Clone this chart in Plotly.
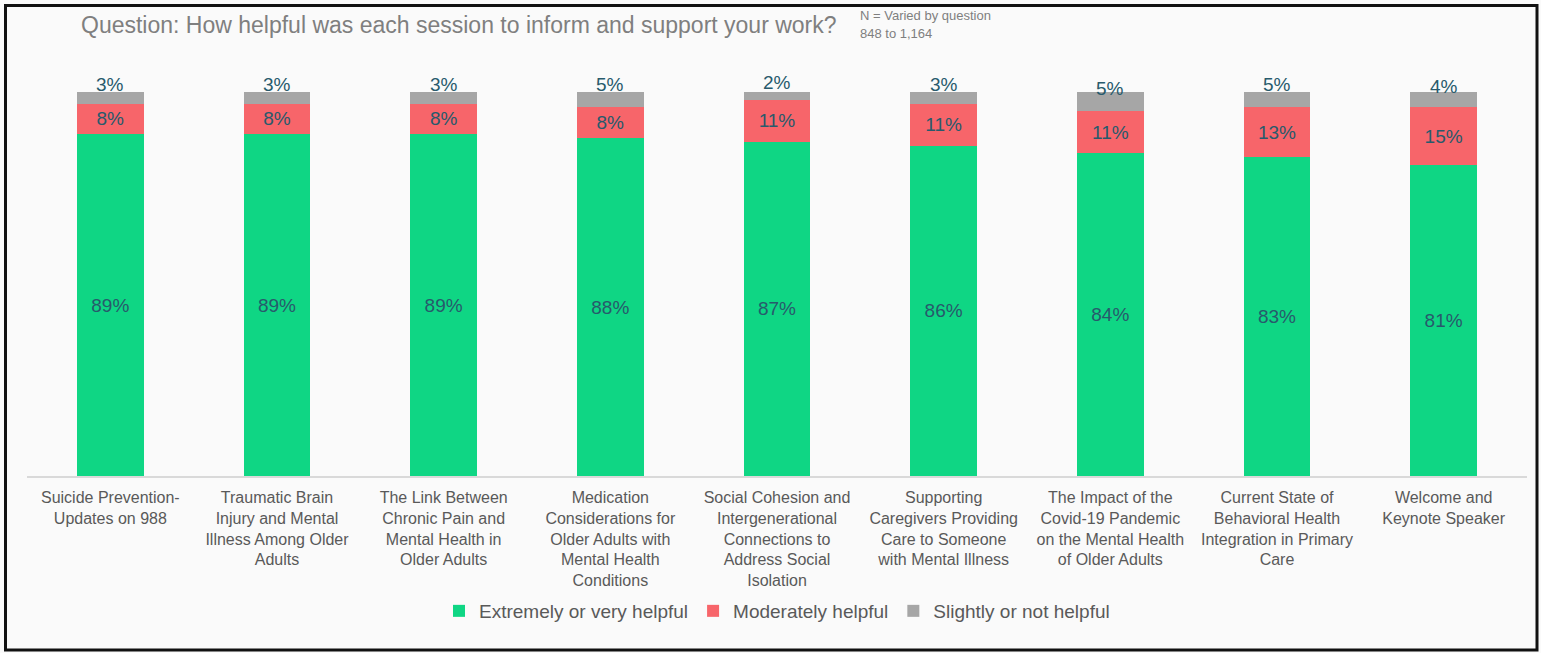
import plotly.graph_objects as go

sessions = [
    "Suicide Prevention-<br>Updates on 988",
    "Traumatic Brain<br>Injury and Mental<br>Illness Among Older<br>Adults",
    "The Link Between<br>Chronic Pain and<br>Mental Health in<br>Older Adults",
    "Medication<br>Considerations for<br>Older Adults with<br>Mental Health<br>Conditions",
    "Social Cohesion and<br>Intergenerational<br>Connections to<br>Address Social<br>Isolation",
    "Supporting<br>Caregivers Providing<br>Care to Someone<br>with Mental Illness",
    "The Impact of the<br>Covid-19 Pandemic<br>on the Mental Health<br>of Older Adults",
    "Current State of<br>Behavioral Health<br>Integration in Primary<br>Care",
    "Welcome and<br>Keynote Speaker",
]
extremely_very = [89, 89, 89, 88, 87, 86, 84, 83, 81]
moderately = [8, 8, 8, 8, 11, 11, 11, 13, 15]
slightly_not = [3, 3, 3, 5, 2, 3, 5, 5, 4]

GREEN = "#0fd684"
RED = "#f7656a"
GRAY = "#a6a6a6"
LABEL = "#285a6c"
TEXT_GRAY = "#7f7f7f"
TICK_GRAY = "#595959"
FONT = "Liberation Sans, Arial, sans-serif"

W, H = 1541, 653
L, R, T, B = 27, 14, 92, 177
PW, PH = W - L - R, H - T - B


def px_to_paper_x(px):
    return (px - L) / PW


def px_to_paper_y(py):
    return (H - B - py) / PH


fig = go.Figure()
fig.add_trace(go.Bar(
    name="Extremely or very helpful", x=sessions, y=extremely_very,
    marker=dict(color=GREEN, line=dict(width=0)),
    text=[f"{v}%" for v in extremely_very], textposition="inside",
    insidetextanchor="middle", textangle=0, constraintext="none",
    textfont=dict(size=19, color=LABEL, family=FONT),
))
fig.add_trace(go.Bar(
    name="Moderately helpful", x=sessions, y=moderately,
    marker=dict(color=RED, line=dict(width=0)),
    text=[f"{v}%" for v in moderately], textposition="inside",
    insidetextanchor="middle", textangle=0, constraintext="none",
    textfont=dict(size=19, color=LABEL, family=FONT),
))
fig.add_trace(go.Bar(
    name="Slightly or not helpful", x=sessions, y=slightly_not,
    marker=dict(color=GRAY, line=dict(width=0)),
    textposition="none",
))

# labels for the thin top segments sit just above them
for s, e, m, g in zip(sessions, extremely_very, moderately, slightly_not):
    fig.add_annotation(
        x=s, y=e + m + g / 2, text=f"{g}%", showarrow=False,
        yshift=13, font=dict(size=19, color=LABEL, family=FONT),
    )

fig.add_annotation(
    xref="paper", yref="paper", x=px_to_paper_x(79), y=px_to_paper_y(25),
    xanchor="left", yanchor="middle", showarrow=False,
    text="Question: How helpful was each session to inform and support your work?",
    font=dict(size=23, color=TEXT_GRAY, family=FONT),
)
fig.add_annotation(
    xref="paper", yref="paper", x=px_to_paper_x(858), y=px_to_paper_y(16),
    xanchor="left", yanchor="middle", showarrow=False,
    text="N = Varied by question", font=dict(size=13, color=TEXT_GRAY, family=FONT),
)
fig.add_annotation(
    xref="paper", yref="paper", x=px_to_paper_x(858), y=px_to_paper_y(34),
    xanchor="left", yanchor="middle", showarrow=False,
    text="848 to 1,164", font=dict(size=13, color=TEXT_GRAY, family=FONT),
)

# outer frame
fig.add_shape(
    type="rect", xref="paper", yref="paper",
    x0=px_to_paper_x(5.5), x1=px_to_paper_x(1537), y0=px_to_paper_y(650), y1=px_to_paper_y(5.5),
    line=dict(color="#111111", width=3), fillcolor="rgba(0,0,0,0)", layer="above",
)

fig.update_layout(
    width=W, height=H,
    margin=dict(l=L, r=R, t=T, b=B, autoexpand=False),
    barmode="stack", bargap=0.6,
    paper_bgcolor="#fafafa", plot_bgcolor="#fafafa",
    font=dict(family=FONT, color=TICK_GRAY),
    showlegend=True,
    legend=dict(
        orientation="h", x=0.5, xanchor="center", y=px_to_paper_y(611), yanchor="middle",
        font=dict(size=19, color=TICK_GRAY, family=FONT), bgcolor="rgba(0,0,0,0)",
        itemwidth=30, tracegroupgap=0, traceorder="normal",
    ),
    xaxis=dict(
        showline=True, linecolor="#d9d9d9", linewidth=1.5, ticks="",
        tickfont=dict(size=16, color=TICK_GRAY, family=FONT), showgrid=False,
        tickangle=0, ticklabelstandoff=6,
    ),
    yaxis=dict(range=[0, 100], visible=False, showgrid=False, zeroline=False),
)

fig.write_html("out.html")
